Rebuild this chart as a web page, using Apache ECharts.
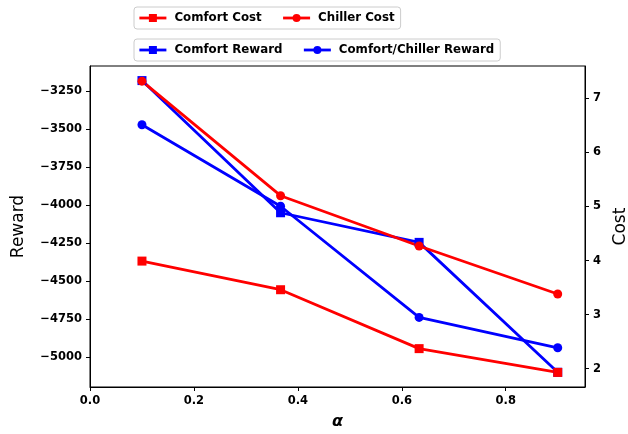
<!DOCTYPE html>
<html>
<head>
<meta charset="utf-8">
<script src="https://cdn.jsdelivr.net/npm/echarts@6/dist/echarts.min.js"></script>
<style>
html,body{margin:0;padding:0;background:#fff;}
#chart{width:628px;height:434px;}
</style>
</head>
<body>
<div id="chart"></div>
<script>
var alphas = [0.1, 0.3667, 0.6333, 0.9];
var comfortReward = [-3180, -4050, -4245, -5100];
var comfortChillerReward = [-3471, -4007, -4739, -4939];
var comfortCost = [3.99, 3.46, 2.37, 1.93];
var chillerCost = [7.32, 5.20, 4.27, 3.38];
var xTicks = [0, 0.2, 0.4, 0.6, 0.8];
var rewardTicks = [-5000, -4750, -4500, -4250, -4000, -3750, -3500, -3250];
var costTicks = [2, 3, 4, 5, 6, 7];

function pairs(xs, ys){ return xs.map(function(x,i){ return [x, ys[i]]; }); }
var FONT = 'DejaVu Sans';
var tickFont = {fontFamily: FONT, fontWeight: 'bold', fontSize: 11.5, color: '#000'};
function minus(v){ return String(v).replace('-', '\u2212'); }

var chart = echarts.init(document.getElementById('chart'), null, {renderer: 'canvas'});
var legendCommon = {
  left: 134, orient: 'horizontal', itemWidth: 27, itemHeight: 10,
  borderColor: '#cccccc', borderWidth: 1, borderRadius: 3, backgroundColor: '#fff',
  padding: [5, 6, 5, 4], itemGap: 20,
  lineStyle: {width: 2.8},
  textStyle: {fontFamily: FONT, fontWeight: 'bold', fontSize: 11.8, color: '#000', padding: [0, 0, 0, 3]}
};
chart.setOption({
  animation: false,
  backgroundColor: '#fff',
  grid: {left: 90, right: 43, top: 66, bottom: 47, show: true, borderColor: '#000', borderWidth: 1,
         containLabel: false, outerBoundsMode: 'none'},
  legend: [
    Object.assign({}, legendCommon, {top: 7, data: ['Comfort Cost', 'Chiller Cost']}),
    Object.assign({}, legendCommon, {top: 39, data: ['Comfort Reward', 'Comfort/Chiller Reward']})
  ],
  xAxis: {
    type: 'value', min: 0, max: 0.9525,
    name: '\u03b1', nameLocation: 'middle', nameGap: 27,
    nameTextStyle: {fontFamily: FONT, fontWeight: 'bold', fontStyle: 'italic', fontSize: 16, color: '#000'},
    axisLine: {show: true, onZero: false, lineStyle: {color: '#000', width: 1}},
    axisTick: {show: true, length: 4, inside: false, customValues: xTicks, lineStyle: {color: '#000'}},
    axisLabel: Object.assign({margin: 8, customValues: xTicks, formatter: function(v){ return v.toFixed(1); }}, tickFont),
    splitLine: {show: false}
  },
  yAxis: [
    {
      type: 'value', min: -5197, max: -3084, position: 'left',
      name: 'Reward', nameLocation: 'middle', nameGap: 63, nameRotate: 90,
      nameTextStyle: {fontFamily: FONT, fontSize: 17, color: '#000'},
      axisLine: {show: true, lineStyle: {color: '#000'}},
      axisTick: {show: true, length: 4, customValues: rewardTicks, lineStyle: {color: '#000'}},
      axisLabel: Object.assign({margin: 8, customValues: rewardTicks, formatter: minus}, tickFont),
      splitLine: {show: false}
    },
    {
      type: 'value', min: 1.66, max: 7.6, position: 'right',
      name: 'Cost', nameLocation: 'middle', nameGap: 27, nameRotate: 90,
      nameTextStyle: {fontFamily: FONT, fontSize: 17, color: '#000'},
      axisLine: {show: true, lineStyle: {color: '#000'}},
      axisTick: {show: true, length: 4, customValues: costTicks, lineStyle: {color: '#000'}},
      axisLabel: Object.assign({margin: 8, customValues: costTicks, formatter: function(v){ return String(v); }}, tickFont),
      splitLine: {show: false}
    }
  ],
  series: [
    {name: 'Comfort Reward', type: 'line', yAxisIndex: 0, data: pairs(alphas, comfortReward),
     symbol: 'rect', symbolSize: 9, itemStyle: {color: '#0000ff'}, lineStyle: {color: '#0000ff', width: 2.8}},
    {name: 'Comfort/Chiller Reward', type: 'line', yAxisIndex: 0, data: pairs(alphas, comfortChillerReward),
     symbol: 'circle', symbolSize: 9, itemStyle: {color: '#0000ff'}, lineStyle: {color: '#0000ff', width: 2.8}},
    {name: 'Comfort Cost', type: 'line', yAxisIndex: 1, data: pairs(alphas, comfortCost),
     symbol: 'rect', symbolSize: 9, itemStyle: {color: '#ff0000'}, lineStyle: {color: '#ff0000', width: 2.8}},
    {name: 'Chiller Cost', type: 'line', yAxisIndex: 1, data: pairs(alphas, chillerCost),
     symbol: 'circle', symbolSize: 9, itemStyle: {color: '#ff0000'}, lineStyle: {color: '#ff0000', width: 2.8}}
  ]
});
</script>
</body>
</html>
